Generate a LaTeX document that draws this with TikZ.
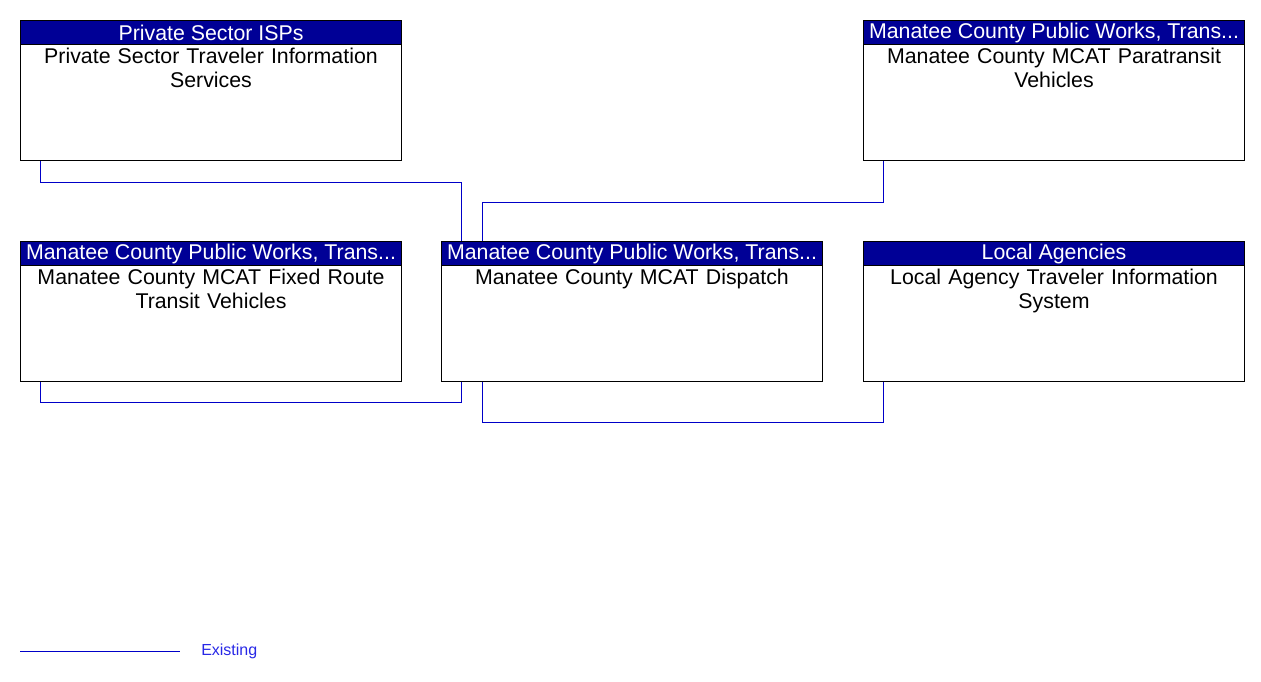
\documentclass[tikz,border=0pt]{standalone}
\usepackage{fontspec}
\setmainfont{Liberation Sans}
\begin{document}
\begin{tikzpicture}[x=0.75pt,y=-0.75pt,
  box/.style={draw=black,line width=0.75pt,fill=white,anchor=north west,minimum width=285.75pt,minimum height=105pt,inner sep=0pt},
  hdr/.style={draw=black,line width=0.75pt,fill=hdrblue,text=white,anchor=north,minimum width=285.75pt,minimum height=18pt,inner sep=0pt,font=\fontsize{16}{18}\selectfont},
  body/.style={anchor=north,align=center,inner sep=0pt,text width=280pt,font=\fontsize{16}{18}\selectfont},
  conn/.style={draw=lineblue,line width=0.75pt}]
\definecolor{hdrblue}{RGB}{0,0,150}
\definecolor{lineblue}{RGB}{0,0,200}
\definecolor{legblue}{RGB}{40,40,230}
\useasboundingbox (0,0) rectangle (1261,682);
% boxes
\node[box] (isp) at (20,20) {};
\node[box] (para) at (863,20) {};
\node[box] (fixed) at (20,241) {};
\node[box] (disp) at (441,241) {};
\node[box] (local) at (863,241) {};
% headers
\node[hdr] (ispH) at (isp.north) {Private Sector ISPs};
\node[hdr] (paraH) at (para.north) {Manatee County Public Works, Trans...};
\node[hdr] (fixedH) at (fixed.north) {Manatee County Public Works, Trans...};
\node[hdr] (dispH) at (disp.north) {Manatee County Public Works, Trans...};
\node[hdr] (localH) at (local.north) {Local Agencies};
% bodies
\node[body] (ispB) at ([yshift=-2pt]ispH.south) {Private Sector Traveler Information\\Services};
\node[body] (paraB) at ([yshift=-2pt]paraH.south) {Manatee County MCAT Paratransit\\Vehicles};
\node[body] (fixedB) at ([yshift=-2pt]fixedH.south) {Manatee County MCAT Fixed Route\\Transit Vehicles};
\node[body] (dispB) at ([yshift=-2pt]dispH.south) {Manatee County MCAT Dispatch};
\node[body] (localB) at ([yshift=-2pt]localH.south) {Local Agency Traveler Information\\System};
% connectors
\draw[conn] ([xshift=15pt]isp.south west) -- ++(0,21) -| ([xshift=15pt]disp.north west);
\draw[conn] ([xshift=15pt]para.south west) -- ++(0,41) -| ([xshift=30.75pt]disp.north west);
\draw[conn] ([xshift=15pt]fixed.south west) -- ++(0,20) -| ([xshift=15pt]disp.south west);
\draw[conn] ([xshift=15pt]local.south west) -- ++(0,40) -| ([xshift=30.75pt]disp.south west);
% legend
\coordinate (legA) at (20,651);
\coordinate (legB) at (180,651);
\draw[conn] (legA) -- (legB);
\node[anchor=west,inner sep=0pt,text=legblue,font=\fontsize{12}{14}\selectfont] (legT) at (201,651) {Existing};
\end{tikzpicture}
\end{document}
